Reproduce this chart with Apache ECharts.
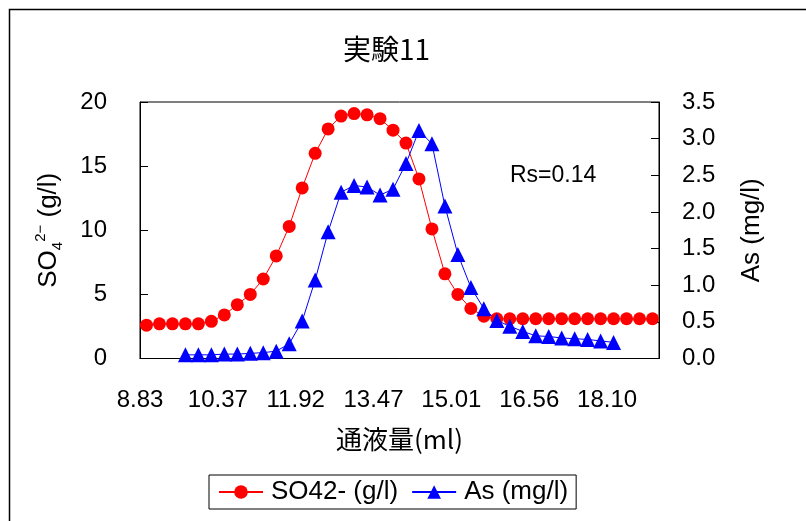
<!DOCTYPE html>
<html>
<head>
<meta charset="utf-8">
<script src="https://cdn.jsdelivr.net/npm/echarts@6/dist/echarts.min.js"></script>
<style>
  html, body { margin: 0; padding: 0; background: #fff; }
  #chart { width: 806px; height: 521px; }
</style>
</head>
<body>
<div id="chart"></div>
<script>
// Cumulative eluate volume (ml) for each sampled fraction
const volumes = [
  '8.83', '9.09', '9.35', '9.60', '9.86', '10.12', '10.37', '10.63', '10.89', '11.15',
  '11.40', '11.66', '11.92', '12.18', '12.43', '12.69', '12.95', '13.21', '13.47', '13.72',
  '13.98', '14.24', '14.50', '14.75', '15.01', '15.27', '15.53', '15.78', '16.04', '16.30',
  '16.56', '16.81', '17.07', '17.33', '17.59', '17.84', '18.10', '18.36', '18.62', '18.87'
];

// Sulfate concentration, g/l (left axis)
const so4Values = [
  2.6, 2.7, 2.7, 2.7, 2.7, 2.9, 3.4, 4.2, 5.0, 6.2,
  8.0, 10.3, 13.3, 16.0, 17.9, 18.9, 19.1, 19.0, 18.7, 17.8,
  16.8, 14.0, 10.1, 6.6, 5.0, 3.9, 3.3, 3.1, 3.1, 3.1,
  3.1, 3.1, 3.1, 3.1, 3.1, 3.1, 3.1, 3.1, 3.1, 3.1
];

// Arsenic concentration, mg/l (right axis); fractions not analysed are null
const asValues = [
  null, null, null, 0.05, 0.05, 0.05, 0.06, 0.06, 0.07, 0.08,
  0.10, 0.20, 0.51, 1.07, 1.73, 2.27, 2.36, 2.34, 2.23, 2.31,
  2.66, 3.11, 2.93, 2.08, 1.42, 0.97, 0.68, 0.52, 0.44, 0.37,
  0.31, 0.30, 0.28, 0.27, 0.26, 0.24, 0.22, null, null, null
];

const seriesNames = ['SO42- (g/l)', 'As (mg/l)'];
const annotationText = 'Rs=0.14';

const NUM_FONT = "'Liberation Sans', 'Noto Sans CJK JP', sans-serif";
const JP_FONT = "'Noto Sans CJK JP', sans-serif";

const chart = echarts.init(document.getElementById('chart'), null, { renderer: 'canvas' });

const axisLineStyle = { lineStyle: { color: '#000', width: 1 } };

const option = {
  animation: false,
  backgroundColor: '#fff',
  textStyle: { fontFamily: NUM_FONT, color: '#000' },
  title: {
    text: '実験11',
    left: 343,
    top: 35,
    padding: 0,
    textStyle: { fontFamily: JP_FONT, fontSize: 28, fontWeight: 'normal', color: '#000' }
  },
  grid: {
    left: 140, right: 147, top: 102, bottom: 162.5,
    show: true, borderColor: '#000', borderWidth: 1, backgroundColor: 'transparent'
  },
  legend: {
    left: 209, top: 475,
    orient: 'horizontal',
    itemWidth: 44, itemHeight: 17, itemGap: 13,
    padding: [4, 8, 4, 9],
    borderColor: '#000', borderWidth: 1,
    textStyle: { fontSize: 26, color: '#000', fontFamily: NUM_FONT, padding: [0, 0, 0, 3] },
    data: seriesNames
  },
  xAxis: {
    type: 'category',
    data: volumes,
    boundaryGap: true,
    axisLine: axisLineStyle,
    axisTick: { inside: true, interval: 5, length: 7, lineStyle: { color: '#000' } },
    axisLabel: {
      interval: 5, fontSize: 24, color: '#000', fontFamily: NUM_FONT,
      margin: 30, padding: [0, 13, 0, 0]
    },
    splitLine: { show: false },
    name: '通液量(ml)',
    nameLocation: 'middle',
    nameGap: 68,
    nameTextStyle: { fontFamily: JP_FONT, fontSize: 26, color: '#000' }
  },
  yAxis: [
    {
      type: 'value', position: 'left',
      min: 0, max: 20, interval: 5,
      axisLine: { show: true, lineStyle: { color: '#000', width: 1 } },
      axisTick: { show: true, inside: true, length: 8, lineStyle: { color: '#000' } },
      axisLabel: { fontSize: 24, color: '#000', margin: 33, fontFamily: NUM_FONT },
      splitLine: { show: false },
      name: '{t|SO}{sub|4}{sup|2−}{t| (g/l)}',
      nameLocation: 'middle',
      nameRotate: 90,
      nameGap: 75,
      nameTextStyle: {
        color: '#000',
        rich: {
          t: { fontSize: 26, fontFamily: NUM_FONT, color: '#000', lineHeight: 32, verticalAlign: 'middle' },
          sub: { fontSize: 15, fontFamily: NUM_FONT, color: '#000', lineHeight: 32, verticalAlign: 'bottom' },
          sup: { fontSize: 15, fontFamily: NUM_FONT, color: '#000', lineHeight: 32, verticalAlign: 'top' }
        }
      }
    },
    {
      type: 'value', position: 'right',
      min: 0, max: 3.5, interval: 0.5,
      axisLine: { show: true, lineStyle: { color: '#000', width: 1 } },
      axisTick: { show: true, inside: true, length: 8, lineStyle: { color: '#000' } },
      axisLabel: {
        fontSize: 24, color: '#000', margin: 23, fontFamily: NUM_FONT,
        formatter: v => v.toFixed(1)
      },
      splitLine: { show: false },
      name: 'As (mg/l)',
      nameLocation: 'middle',
      nameRotate: 90,
      nameGap: 80,
      nameTextStyle: { fontSize: 26, color: '#000', fontFamily: NUM_FONT }
    }
  ],
  series: [
    {
      name: seriesNames[0],
      type: 'line',
      yAxisIndex: 0,
      data: so4Values,
      symbol: 'circle',
      symbolSize: 13,
      showAllSymbol: true,
      color: '#FF0000',
      itemStyle: { color: '#FF0000' },
      lineStyle: { color: '#FF0000', width: 1 }
    },
    {
      name: seriesNames[1],
      type: 'line',
      yAxisIndex: 1,
      data: asValues,
      symbol: 'triangle',
      symbolSize: 15,
      showAllSymbol: true,
      color: '#0000FF',
      itemStyle: { color: '#0000FF' },
      lineStyle: { color: '#0000FF', width: 1 }
    }
  ],
  graphic: [
    {
      type: 'rect',
      silent: true,
      z: -10,
      shape: { x: 9.5, y: 9.5, width: 830, height: 560 },
      style: { fill: 'none', stroke: '#000', lineWidth: 1.5 }
    },
    {
      type: 'text',
      left: 510,
      top: 164,
      silent: true,
      style: { text: annotationText, fontSize: 23, fontFamily: NUM_FONT, fill: '#000' }
    }
  ]
};

chart.setOption(option);
</script>
</body>
</html>
